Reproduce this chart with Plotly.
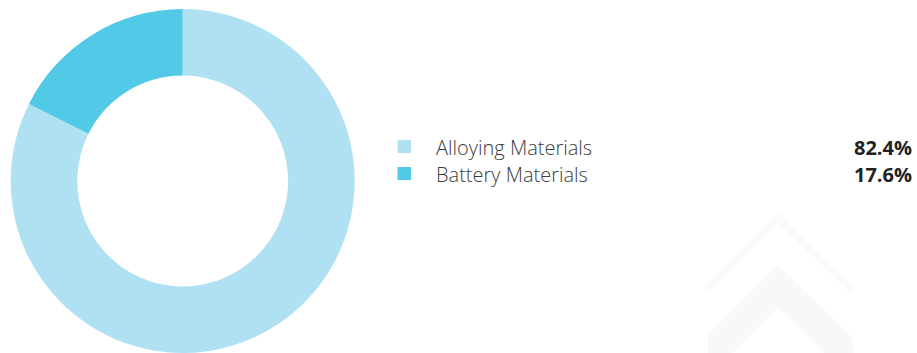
import plotly.graph_objects as go

labels = ["Alloying Materials", "Battery Materials"]
values = [82.4, 17.6]
pct_text = ["82.4%", "17.6%"]
colors = ["#b0e1f2", "#52c9e6"]

W, H = 917, 353
MT, MB = 9, 0
PH = H - MT - MB

def px_x(x):
    return x / W

def px_y(y):
    return (H - MB - y) / PH

fig = go.Figure()
fig.add_trace(go.Pie(
    labels=labels, values=values, hole=0.613, sort=False,
    direction="clockwise", rotation=0, textinfo="none",
    marker=dict(colors=colors, line=dict(width=0)),
    domain=dict(x=[px_x(10.7), px_x(354.7)], y=[0, 1]),
    showlegend=False, hoverinfo="label+percent",
))

shapes = []
# faint watermark chevrons
shapes.append(dict(type="path", xref="paper", yref="paper",
                   path=f"M {px_x(705)},{px_y(291)} L {px_x(778)},{px_y(218)} L {px_x(853)},{px_y(291)}",
                   line=dict(color="#fafafa", width=7)))
pts = [(778, 265), (853, 339), (853, 353), (824, 353), (778, 307), (732, 353), (708, 353), (708, 335)]
path = "M " + " L ".join(f"{px_x(x)},{px_y(y)}" for x, y in pts) + " Z"
shapes.append(dict(type="path", xref="paper", yref="paper", path=path,
                   fillcolor="#f8f8f8", line=dict(width=0)))

row_top = [140, 167]
annotations = []
for i, (lab, pt, col) in enumerate(zip(labels, pct_text, colors)):
    t = row_top[i]
    shapes.append(dict(type="rect", xref="paper", yref="paper",
                       x0=px_x(397.5), x1=px_x(411), y0=px_y(t), y1=px_y(t + 13),
                       fillcolor=col, line=dict(width=0)))
    yc = px_y(t + 7)
    annotations.append(dict(x=px_x(434), y=yc, xref="paper", yref="paper",
                            text=lab, showarrow=False, xanchor="left", yanchor="middle",
                            font=dict(family="Open Sans", size=20, color="#3c3c3c", weight=300)))
    annotations.append(dict(x=px_x(914), y=yc, xref="paper", yref="paper",
                            text=f"<b>{pt}</b>", showarrow=False, xanchor="right", yanchor="middle",
                            font=dict(family="Open Sans", size=20, color="#222222")))

fig.update_layout(width=W, height=H, margin=dict(l=0, r=0, t=MT, b=MB),
                  paper_bgcolor="white", plot_bgcolor="white",
                  shapes=shapes, annotations=annotations)
fig.write_html("out.html", config={"displayModeBar": False},
               post_script="document.body.style.margin='0';document.body.style.overflow='hidden';")
